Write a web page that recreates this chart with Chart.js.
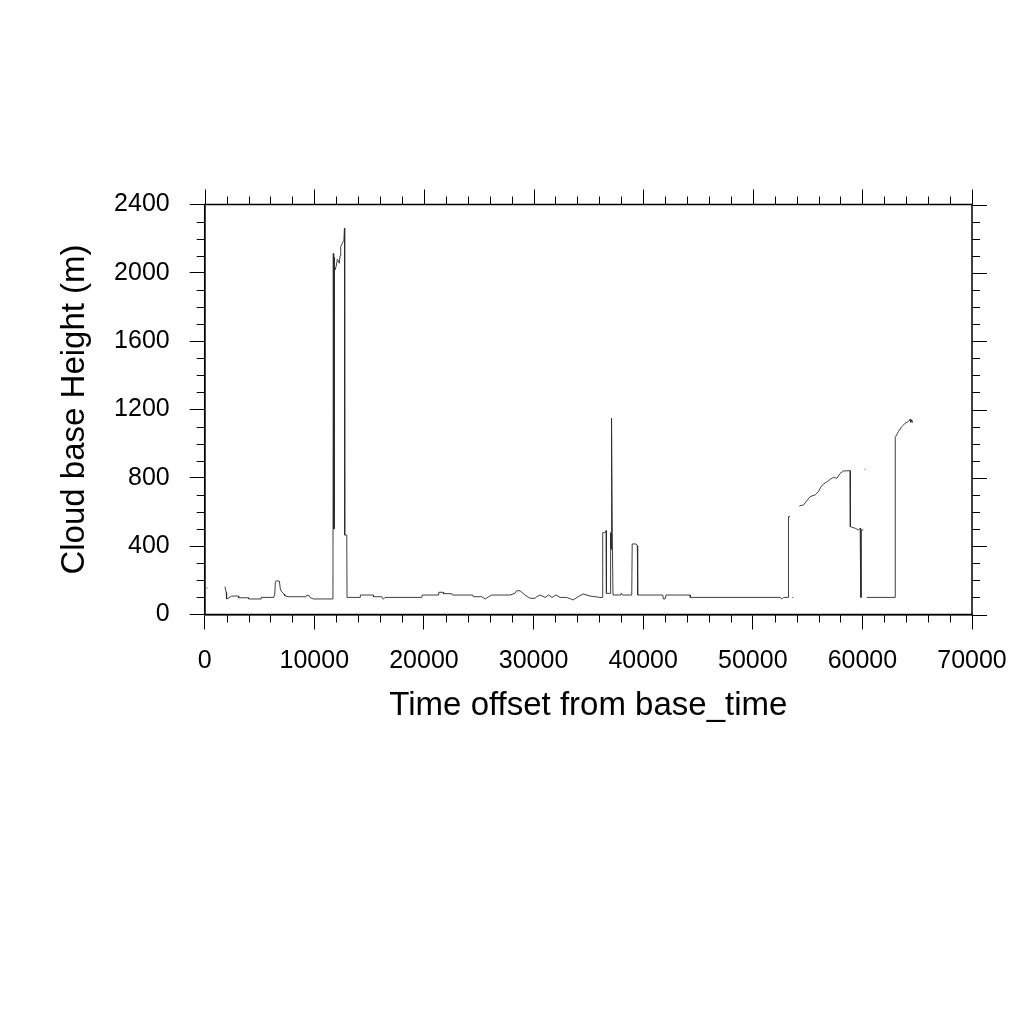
<!DOCTYPE html>
<html>
<head>
<meta charset="utf-8">
<script src="https://cdn.jsdelivr.net/npm/chart.js@4/dist/chart.umd.min.js"></script>
<style>
  html, body { margin: 0; padding: 0; background: #fff; }
  #c { display: block; }
</style>
</head>
<body>
<canvas id="c" width="1024" height="1024"></canvas>
<script>
// ---- Data ----
const timeOffset = [
  150, 250, 1000,
  1850, 1960, 2000, 2150, 2460, 3070, 3100, 3980, 4000, 5140, 5160, 6260, 6300, 6380, 6450, 6550, 6810, 6900, 7020, 7240, 7300, 7600, 9240, 9300, 9500, 9600, 9910, 11700,
  11733, 11750, 11770, 11790, 11810, 11825, 11840, 11890, 12000, 12100, 12200, 12280, 12350, 12410, 12500, 12590, 12700, 12750, 12774, 12960, 12984,
  14190, 14200, 15380, 15400, 16150, 16300, 16450, 19800, 19850, 21300, 21350, 21750, 21800, 22530, 22600, 24450, 24500, 25270, 25600, 25900, 26190, 27860, 28300, 28460, 28770, 29220, 29680, 30140, 30290, 30600, 31070, 31350, 31700, 32050, 32420, 33000, 33400, 33600, 34070, 34520, 35150, 36060, 36250,
  36310, 36500, 36620, 36650, 36980, 37000, 37020, 37040, 37060, 37080, 37100, 37130, 37200, 37250, 37950, 38000, 38100, 38960, 39000, 39350, 39470, 39500, 41790, 41850, 42000, 42090, 44280, 44300, 52490, 52650, 52800, 53250, 53260, 53400,
  53500, 53600, 53700, 54000,
  54250, 54620, 54860, 55230, 55690, 55990, 56200, 56450, 56810, 57060, 57360, 57670, 57970, 58270, 58880, 58900, 59340, 59640, 59800, 59830, 59860, 59880, 59900, 60090,
  60150, 60200, 60280, 60340,
  60400, 62980, 63000, 63280, 63590, 63900, 64200, 64350, 64420, 64510, 64580
];
const cloudBaseHeight = [
  155, 155, null,
  163, 130, 91, 95, 108, 108, 98, 98, 91, 91, 100, 100, 108, 110, 190, 198, 195, 150, 133, 120, 110, 104, 104, 112, 112, 100, 91, 91,
  2113, 500, 2100, 510, 2090, 500, 2040, 2017, 2040, 2080, 2070, 2056, 2100, 2153, 2165, 2179, 2190, 2261, 465, 465, 100,
  100, 114, 114, 104, 104, 89, 100, 100, 114, 114, 130, 130, 122, 122, 114, 114, 104, 104, 91, 104, 114, 114, 124, 139, 139, 114, 95, 95, 104, 114, 100, 114, 100, 114, 100, 100, 91, 85, 104, 120, 108, 100, 100,
  479, 479, 491, 124, 124, 479, 380, 480, 390, 470, 380, 1149, 372, 114, 114, 124, 114, 114, 413, 413, 403, 114, 114, 91, 91, 114, 114, 100, 100, 91, 100, 100, 573, 573,
  null, 100, 100, null,
  635, 641, 660, 690, 700, 719, 745, 764, 778, 791, 803, 797, 826, 840, 842, 514, 505, 495, 505, 100, 500, 100, 495, 495,
  null, 850, 850, null,
  100, 100, 1037, 1070, 1100, 1119, 1130, 1143, 1125, 1140, 1123
];
const xTickValues = [0, 10000, 20000, 30000, 40000, 50000, 60000, 70000];
const yTickValues = [0, 400, 800, 1200, 1600, 2000, 2400];
const xMinorStep = 2000;
const yMinorStep = 100;
const xTitle = 'Time offset from base_time';
const yTitle = 'Cloud base Height (m)';

// ---- Chart ----
const FONT = '"Liberation Sans", Arial, Helvetica, sans-serif';

const frameAndMinorTicks = {
  id: 'frameAndMinorTicks',
  afterDraw(chart) {
    const {ctx, chartArea: a, scales: {x, y}} = chart;
    ctx.save();
    ctx.strokeStyle = '#000';
    ctx.lineWidth = 1.5;
    ctx.strokeRect(a.left, a.top, a.right - a.left, a.bottom - a.top);
    ctx.lineWidth = 1;
    ctx.beginPath();
    for (let v = x.min; v <= x.max + 1e-6; v += xMinorStep) {
      const px = Math.round(x.getPixelForValue(v)) + 0.5;
      const major = xTickValues.includes(v);
      const len = major ? 15 : 8;
      if (!major) { ctx.moveTo(px, a.bottom); ctx.lineTo(px, a.bottom + len); }
      ctx.moveTo(px, a.top); ctx.lineTo(px, a.top - len);
    }
    for (let v = y.min; v <= y.max + 1e-6; v += yMinorStep) {
      const py = Math.round(y.getPixelForValue(v)) + 0.5;
      const major = yTickValues.includes(v);
      const len = major ? 15 : 8;
      if (!major) { ctx.moveTo(a.left, py); ctx.lineTo(a.left - len, py); }
      ctx.moveTo(a.right, py); ctx.lineTo(a.right + len, py);
    }
    ctx.stroke();
    ctx.restore();
  }
};

new Chart(document.getElementById('c'), {
  type: 'line',
  data: {
    datasets: [{
      data: timeOffset.map((t, i) => ({x: t, y: cloudBaseHeight[i]})),
      borderColor: '#2a2a2a',
      borderWidth: 0.9,
      pointRadius: 0,
      tension: 0,
      spanGaps: false,
      fill: false
    }]
  },
  options: {
    responsive: false,
    animation: false,
    devicePixelRatio: 1,
    layout: { padding: { top: 204.5, right: 52, left: 0, bottom: 0 } },
    plugins: { legend: { display: false }, tooltip: { enabled: false } },
    scales: {
      x: {
        type: 'linear',
        position: 'bottom',
        min: 0, max: 70000,
        afterBuildTicks: s => { s.ticks = xTickValues.map(v => ({value: v})); },
        afterFit: s => { s.height = 409.5; },
        grid: { display: true, drawOnChartArea: false, drawTicks: true, tickLength: 15, color: '#000', lineWidth: 1 },
        border: { display: true, color: '#000', width: 1.5 },
        ticks: {
          autoSkip: false, maxRotation: 0, padding: 17, color: '#000',
          font: { family: FONT, size: 25 },
          callback: v => String(v)
        },
        title: {
          display: true, text: xTitle, color: '#000',
          font: { family: FONT, size: 33 },
          padding: { top: 0, bottom: 298 }
        }
      },
      y: {
        type: 'linear',
        position: 'left',
        min: 0, max: 2400,
        afterBuildTicks: s => { s.ticks = yTickValues.map(v => ({value: v})); },
        afterFit: s => { s.width = 204.7; },
        grid: { display: true, drawOnChartArea: false, drawTicks: true, tickLength: 15, color: '#000', lineWidth: 1 },
        border: { display: true, color: '#000', width: 1.5 },
        ticks: {
          autoSkip: false, padding: 20, color: '#000',
          font: { family: FONT, size: 25 },
          callback: v => String(v)
        },
        title: {
          display: true, text: yTitle, color: '#000',
          font: { family: FONT, size: 33 },
          padding: { top: 55, bottom: 0 }
        }
      }
    }
  },
  plugins: [frameAndMinorTicks]
});
</script>
</body>
</html>
